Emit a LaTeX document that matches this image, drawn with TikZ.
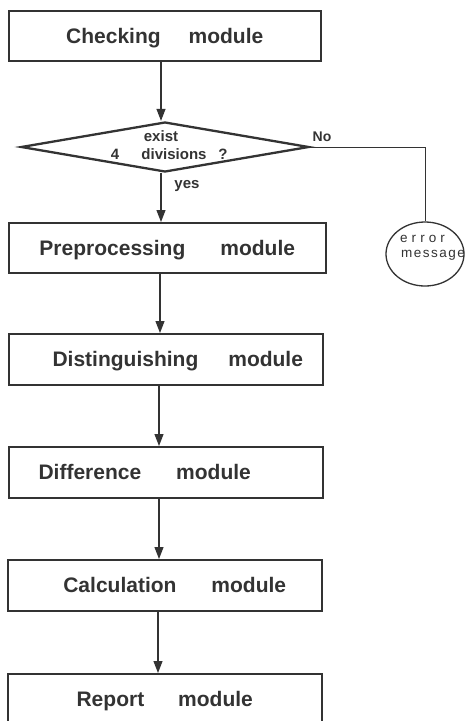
\documentclass[tikz,border=0pt]{standalone}
\usepackage{fontspec}
\setmainfont{Liberation Sans}
\newfontfamily\errfontA[LetterSpace=30]{Liberation Sans}
\newfontfamily\errfontB[LetterSpace=11]{Liberation Sans}
\usetikzlibrary{arrows.meta,shapes.geometric}
\definecolor{ink}{HTML}{333333}
\begin{document}
\begin{tikzpicture}[x=1pt,y=-1pt,
  mod/.style={draw=ink, line width=1.5pt, minimum height=50pt, inner sep=0pt,
    text=ink, font=\fontsize{21}{24}\selectfont\bfseries, text height=15pt, text depth=0pt,
    anchor=north west},
  arr/.style={draw=ink, line width=1.2pt, -{Triangle[length=12pt,width=9pt]}},
  small/.style={text=ink, font=\fontsize{15}{18}\selectfont\bfseries, inner sep=0pt, anchor=base},
  wire/.style={draw=ink, line width=0.9pt}]
\useasboundingbox (0,0) rectangle (467,721);
% axes for vertical connectors
\coordinate (ax1) at (161,0);
\coordinate (ax2) at (160,0);
\coordinate (ax3) at (159,0);
\coordinate (ax4) at (158,0);
% boxes
\node[mod, minimum width=312pt] (check) at (8,10) {Checking\hspace{28pt}module};
\node[draw=ink, line width=2.3pt, diamond, minimum width=288pt, minimum height=50pt, inner sep=0pt] (dia) at (165,147) {};
\node[mod, minimum width=317pt] (pre) at (8,222) {Preprocessing\hspace{35pt}module};
\node[mod, minimum width=314pt, minimum height=51pt] (dist) at (8,333) {\hspace*{24pt}Distinguishing\hspace{30pt}module};
\node[mod, minimum width=314pt, minimum height=51pt] (diff) at (8,446) {Difference\hspace{35pt}module\hspace*{42pt}};
\node[mod, minimum width=314pt, minimum height=51pt] (calc) at (7,559) {\hspace*{20pt}Calculation\hspace{35pt}module};
\node[mod, minimum width=314pt] (rep) at (7,673) {Report\hspace{34pt}module};
\node[draw=ink, line width=1.3pt, ellipse, minimum width=78pt, minimum height=64pt, inner sep=0pt] (err) at (425,254) {};
% texts in the decision
\node[small] (t1) at (161,141.7) {exist};
\node[small] (t2) at (115,159) {4};
\node[small] (t3) at (174,159) {divisions};
\node[small] (t4) at (223,159) {?};
\node[small] (yes) at (187,188) {yes};
\node[small, font=\fontsize{14}{16}\selectfont\bfseries] (no) at (322,141.7) {No};
\node[text=ink, font=\fontsize{13.5}{15}\selectfont, inner sep=0pt, anchor=base west] (e1) at (400,242) {\errfontA error};
\node[text=ink, font=\fontsize{13.5}{15}\selectfont, inner sep=0pt, anchor=base west] (e2) at (401,257) {\errfontB message};
% connectors
\draw[arr] (check.south -| ax1) -- (dia.north -| ax1);
\draw[arr] (dia.south -| ax1) -- (pre.north -| ax1);
\draw[arr] (pre.south -| ax2) -- (dist.north -| ax2);
\draw[arr] (dist.south -| ax3) -- (diff.north -| ax3);
\draw[arr] (diff.south -| ax3) -- (calc.north -| ax3);
\draw[arr] (calc.south -| ax4) -- (rep.north -| ax4);
\draw[wire] (dia.east) -- (dia.east -| err.north) -- (err.north);
\end{tikzpicture}
\end{document}
